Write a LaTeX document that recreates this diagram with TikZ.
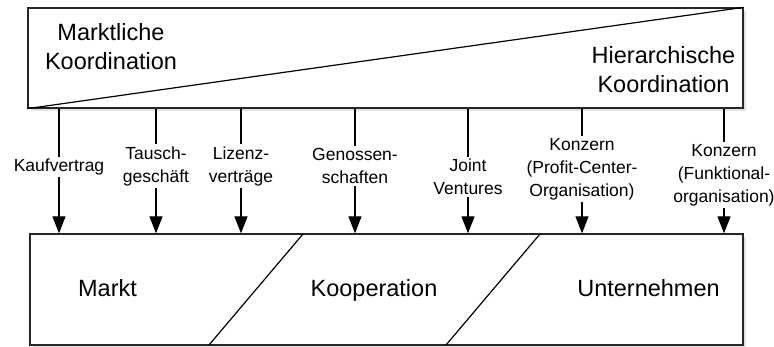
\documentclass[tikz,border=0pt]{standalone}
\usepackage{fontspec}
\setmainfont{Liberation Sans}
\usetikzlibrary{arrows.meta,shadows}
\begin{document}
\begin{tikzpicture}[x=1pt,y=-1pt,
  box/.style={draw=black!85,line width=1.3pt,fill=white,inner sep=0pt,
    drop shadow={opacity=0.22,shadow xshift=3pt,shadow yshift=-3pt}},
  big/.style={font=\fontsize{23.5}{29}\selectfont,align=center,inner sep=0pt},
  lab/.style={font=\fontsize{17.5}{23}\selectfont,align=center,inner xsep=0pt,inner ysep=2pt},
  conn/.style={line width=1.2pt},
  arr/.style={line width=1.2pt,-{Triangle[width=13pt,length=17pt]}}]
\useasboundingbox (0,0) rectangle (774,347);
% top box
\node[box,minimum width=715pt,minimum height=100pt] (top) at (385.5,58) {};
\draw[line width=1.2pt] (top.south west) -- (top.north east);
\node[big] (mk) at (111,47) {Marktliche\\Koordination};
\node[big] (hk) at (663.5,70) {Hierarchische\\Koordination};
% bottom box
\node[box,minimum width=713pt,minimum height=111pt] (bot) at (386.5,289.5) {};
\coordinate (d1a) at (303,234);
\coordinate (d1b) at (209,345);
\coordinate (d2a) at (540,234);
\coordinate (d2b) at (446,345);
\draw[line width=1.2pt] (d1a) -- (d1b);
\draw[line width=1.2pt] (d2a) -- (d2b);
\node[big,anchor=base] (markt) at (107.5,297) {Markt};
\node[big,anchor=base] (koop) at (374,297) {Kooperation};
\node[big,anchor=base] (unt) at (648.5,297) {Unternehmen};
% labels
\node[lab] (l1) at (59,167) {Kaufvertrag};
\node[lab] (l2) at (156,166) {Tausch-\\geschäft};
\node[lab] (l3) at (241,166) {Lizenz-\\verträge};
\node[lab] (l4) at (355,166) {Genossen-\\schaften};
\node[lab] (l5) at (468,177) {Joint\\Ventures};
\node[lab] (l6) at (582,169) {Konzern\\(Profit-Center-\\Organisation)};
\node[lab] (l7) at (724,175) {Konzern\\(Funktional-\\organisation)};
\foreach \n in {l1,l2,l3,l4,l5,l6,l7}{
  \draw[conn] (\n.north |- top.south) -- (\n.north);
  \draw[arr] (\n.south) -- (\n.south |- bot.north);
}
\end{tikzpicture}
\end{document}
